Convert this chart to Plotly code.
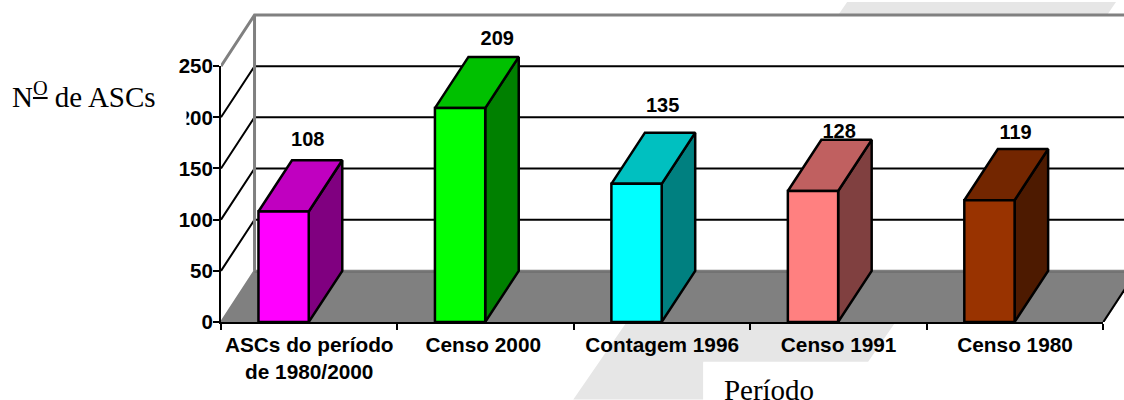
import plotly.graph_objects as go

categories = ["ASCs do período<br>de 1980/2000", "Censo 2000", "Contagem 1996", "Censo 1991", "Censo 1980"]
values = [108, 209, 135, 128, 119]
front_colors = ["#FF00FF", "#00FF00", "#00FFFF", "#FF8080", "#993300"]
top_colors = ["#C000C0", "#00C000", "#00C0C0", "#C06060", "#732600"]
side_colors = ["#800080", "#008000", "#008080", "#804040", "#4D1A00"]
y_ticks = [0, 50, 100, 150, 200, 250]
label_dx = [-1, 12, 1, 1, 1]
label_dy = [19, 17, 26, 7, 15]

# plot geometry in pixels
L, R, B, T = 220.5, 1103.3, 322, 64.5
TOP = 10           # top of the area in which the 3D box is drawn
W, H = 1124, 400
DX = 0.19          # depth in category units
DY = 50            # depth in value units
BAR_LEFT = 0.2123
BAR_W = 0.285
N = len(categories)
YMAX = y_ticks[-1]
CAT_PX = (R - L) / N
VAL_PX = (B - T) / YMAX


def px(x):
    return (x - L) / (W - L)


def py(y):
    return (B - y) / (B - TOP)


GRAY = "#808080"
fig = go.Figure()


def poly(xs, ys, fill, line="black", width=2.5, name=""):
    fig.add_trace(go.Scatter(x=xs + xs[:1], y=ys + ys[:1], mode="lines", fill="toself",
                             fillcolor=fill, line=dict(color=line, width=width),
                             showlegend=False, name=name, hoverinfo="skip"))


def line(xs, ys, color, width):
    fig.add_trace(go.Scatter(x=xs, y=ys, mode="lines", line=dict(color=color, width=width),
                             showlegend=False, hoverinfo="skip"))


# walls
poly([DX, N + DX, N + DX, DX], [DY, DY, YMAX + DY, YMAX + DY], "white", "white", 0, "back wall")
poly([0, DX, DX, 0], [0, DY, YMAX + DY, YMAX], "white", "white", 0, "side wall")
# floor
poly([0, N, N + DX, DX], [0, 0, DY, DY], GRAY, GRAY, 2, "floor")
line([DX, N + DX], [DY - 1.2, DY - 1.2], "#666666", 1)
line([N, N + DX], [0, DY], "black", 2)

# gridlines on both walls
for t in y_ticks[1:-1]:
    line([0, DX, N + DX], [t, t + DY, t + DY], "black", 2)
line([DX, DX], [DY, YMAX + DY], GRAY, 3)
line([0, DX, N + DX], [YMAX, YMAX + DY, YMAX + DY], GRAY, 3)

# bars
for i, v in enumerate(values):
    x0 = i + BAR_LEFT
    x1 = x0 + BAR_W
    poly([x1, x1 + DX, x1 + DX, x1], [0, DY, v + DY, v], side_colors[i], name=f"side {i}")
    poly([x0, x1, x1 + DX, x0 + DX], [v, v, v + DY, v + DY], top_colors[i], name=f"top {i}")
    poly([x0, x1, x1, x0], [0, 0, v, v], front_colors[i], name=f"front {i}")

# value labels
fig.add_trace(go.Scatter(
    x=[i + BAR_LEFT + BAR_W + label_dx[i] / CAT_PX for i in range(N)],
    y=[v + DY + label_dy[i] / VAL_PX for i, v in enumerate(values)],
    mode="text", text=[str(v) for v in values], textposition="middle center",
    textfont=dict(family="Liberation Sans", size=20, color="black", weight="bold"),
    cliponaxis=False, showlegend=False, hoverinfo="skip"))

# invisible trace that keeps the visible front axes alive
fig.add_trace(go.Scatter(x=[i + 0.5 for i in range(N)], y=values, xaxis="x2", yaxis="y2",
                         mode="markers", marker=dict(opacity=0), showlegend=False,
                         hovertemplate="%{y}<extra></extra>"))

# light diagonal watermark band
BAND = "#E6E6E6"
band = [(847, 0), (1116, 0), (868, 362), (703, 362), (703, 400), (573, 400)]
path = "M " + " L ".join(f"{px(x):.5f},{py(y):.5f}" for x, y in band) + " Z"

fig.update_layout(
    width=W, height=H, autosize=False,
    margin=dict(l=L, r=0, t=TOP, b=H - B, pad=0),
    paper_bgcolor="white", plot_bgcolor="rgba(0,0,0,0)",
    showlegend=False,
    shapes=[
        dict(type="path", path=path, xref="paper", yref="paper",
             fillcolor=BAND, line=dict(width=0), layer="below"),
        # the white text box of the axis title, which overlaps the "200" tick label
        dict(type="rect", xref="paper", yref="paper", x0=px(5), x1=px(186), y0=py(125), y1=py(73),
             fillcolor="white", line=dict(width=0), layer="above"),
    ],
    font=dict(family="Liberation Sans", color="black"),
    # hidden axes that carry the 3D box (same scales as the visible axes)
    xaxis=dict(range=[0, (W - L) / CAT_PX], visible=False, domain=[0, 1]),
    yaxis=dict(range=[0, (B - TOP) / VAL_PX], visible=False, domain=[0, 1]),
    # visible front axes
    xaxis2=dict(domain=[0, px(R)], anchor="y2", range=[0, N], tickmode="array",
                tickvals=[0.5, 1.486, 2.5, 3.5, 4.5], ticktext=categories,
                ticks="outside", ticklen=3, tickcolor="rgba(0,0,0,0)",
                tickangle=0, showgrid=False, zeroline=False, showline=True,
                linecolor="black", linewidth=2,
                tickfont=dict(family="Liberation Sans", size=20.8, color="black", weight="bold"),
                minor=dict(tickmode="array", tickvals=list(range(N + 1)), ticks="outside",
                           ticklen=6, tickwidth=2, tickcolor="black", showgrid=False)),
    yaxis2=dict(domain=[0, py(T)], anchor="x2", range=[0, YMAX], tickmode="array",
                tickvals=y_ticks, ticks="outside", ticklen=6, tickwidth=2, tickcolor="black",
                ticklabelstandoff=-4,
                showgrid=False, zeroline=False, showline=True, linecolor="black", linewidth=2,
                tickfont=dict(family="Liberation Sans", size=20.5, color="black", weight="bold")),
    annotations=[
        dict(text="N<sup><u>O</u></sup> de ASCs", xref="paper", yref="paper",
             x=px(10), y=py(94), xanchor="left", yanchor="middle",
             align="left", showarrow=False, borderpad=0,
             font=dict(family="Liberation Serif", size=29, color="black")),
        dict(text="Período", xref="paper", yref="paper",
             x=px(703), y=py(362), xanchor="left", yanchor="top", width=130, height=54,
             align="center", valign="middle", showarrow=False, bgcolor="white", borderpad=0,
             font=dict(family="Liberation Serif", size=29, color="black")),
    ],
)

fig.write_html("out.html", config=dict(displayModeBar=False),
               post_script="document.body.style.margin='0';document.body.style.overflow='hidden';")
